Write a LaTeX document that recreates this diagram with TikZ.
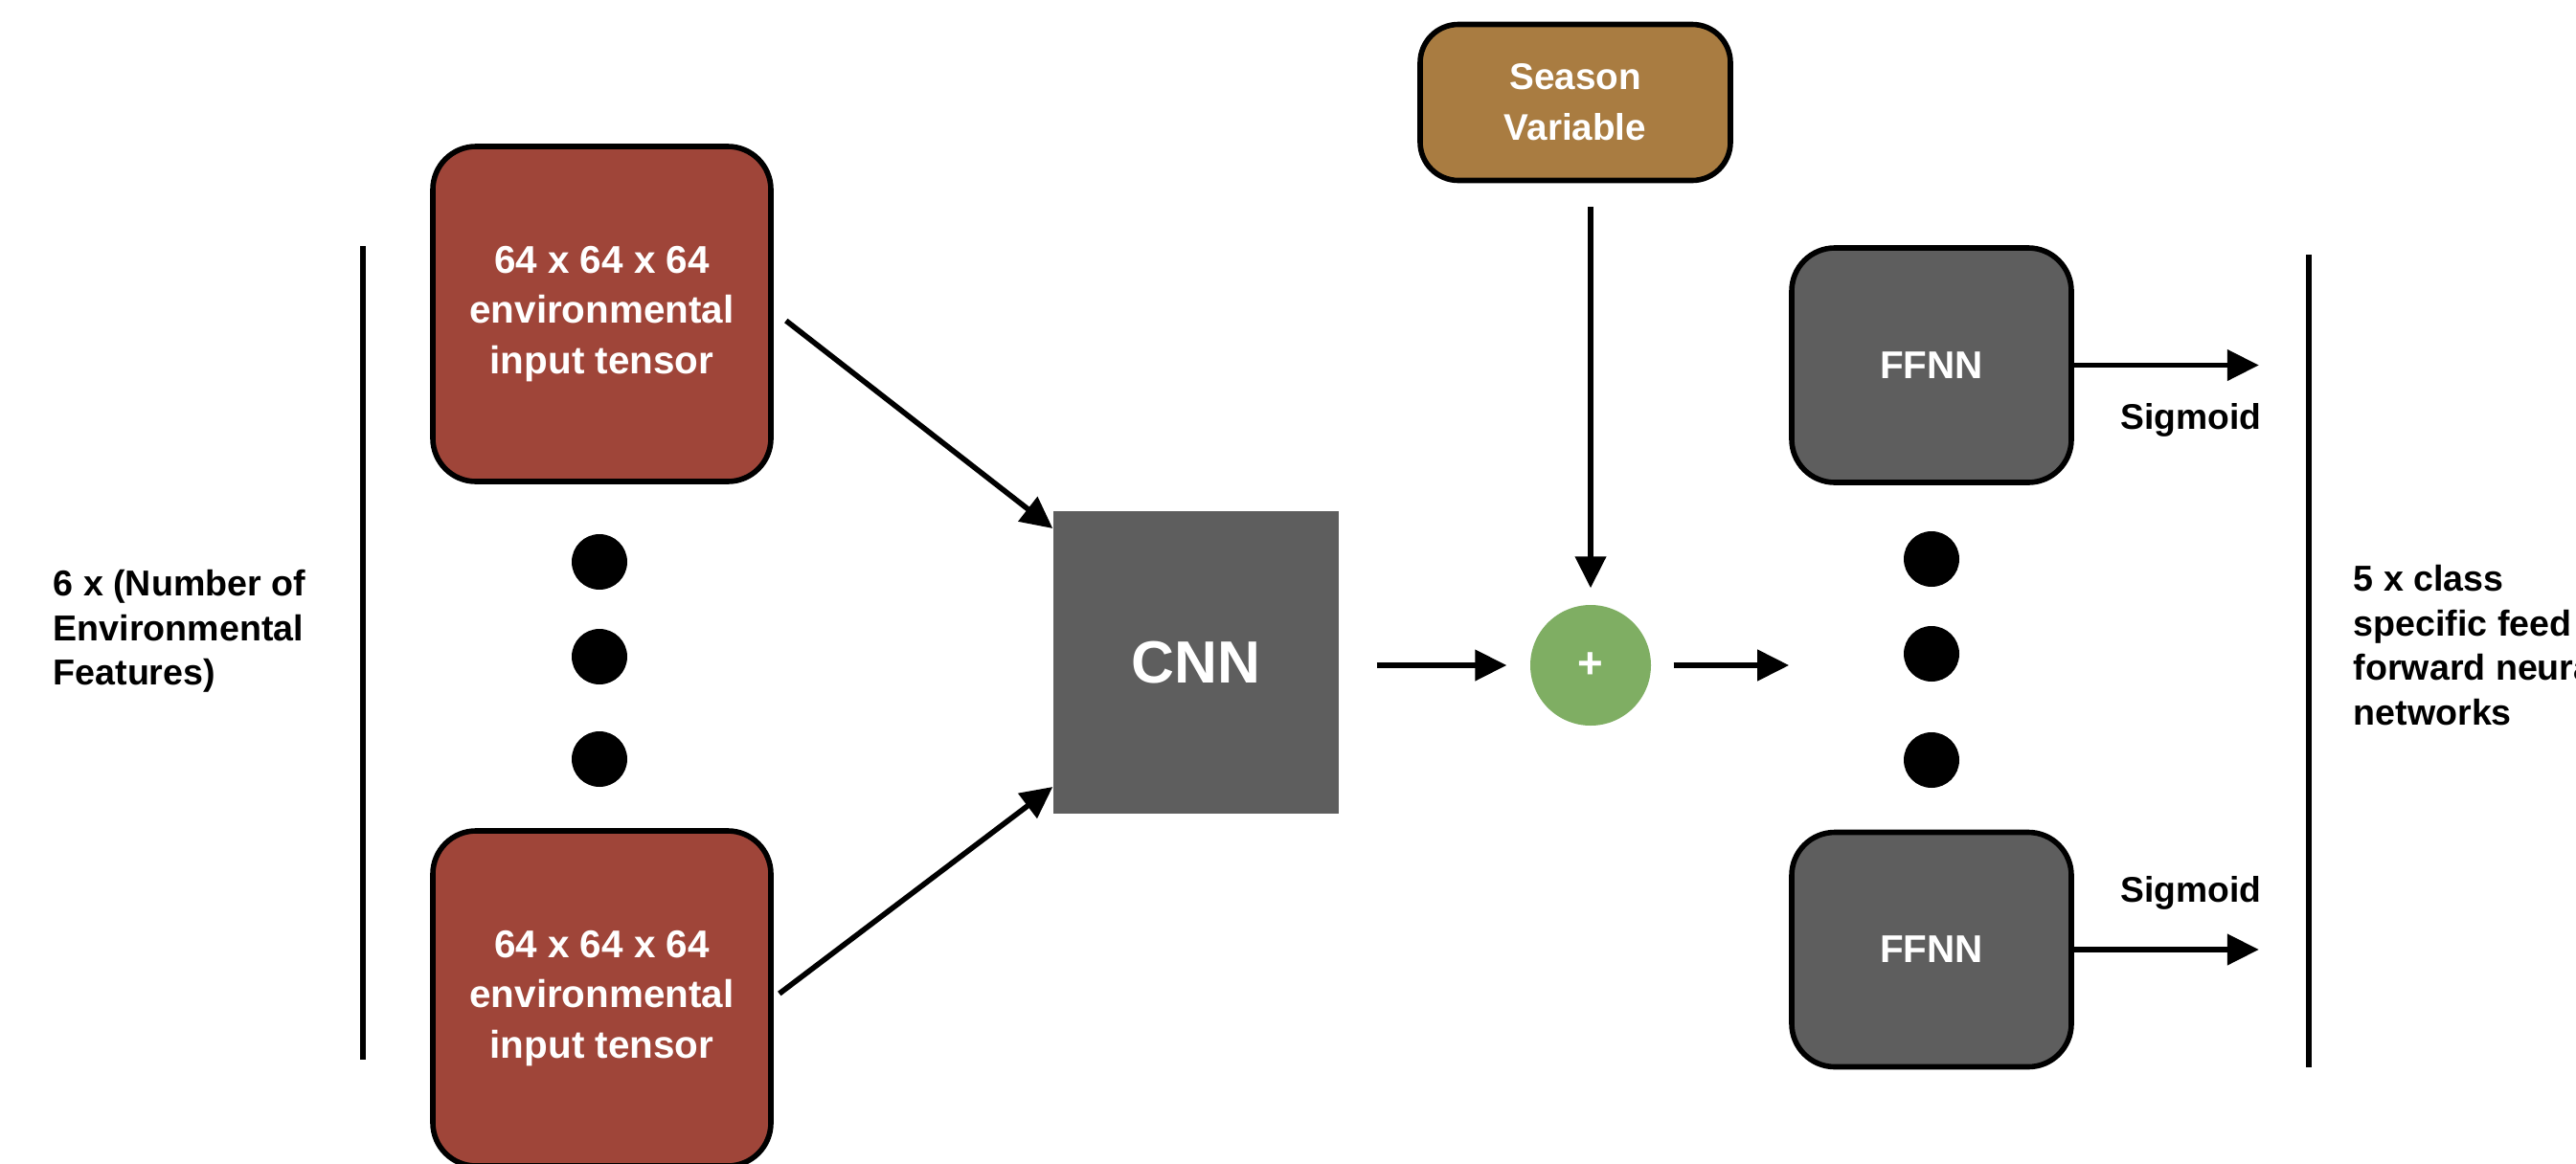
\documentclass[tikz,border=0pt]{standalone}
\usepackage{fontspec}
\setmainfont{Liberation Sans}
\usetikzlibrary{arrows.meta}

\definecolor{tensorred}{RGB}{159,69,57}
\definecolor{seasonbrown}{RGB}{169,124,65}
\definecolor{netgray}{RGB}{94,94,94}
\definecolor{addgreen}{RGB}{127,174,99}

\newcommand{\tensorfont}{\fontsize{11.5}{15}\selectfont\bfseries}
\newcommand{\sidefont}{\fontsize{10.7}{13.2}\selectfont\bfseries}

\tikzset{
  arr/.style={line width=1.6pt, -{Triangle[length=9.4pt,width=9pt]}},
  bar/.style={line width=1.8pt},
  tensorbox/.style={draw, line width=1.6pt, rounded corners=0.45cm, fill=tensorred,
    minimum width=3.53cm, minimum height=3.5cm, align=center, text=white, font=\tensorfont},
  seasonbox/.style={draw, line width=1.6pt, rounded corners=0.4cm, fill=seasonbrown,
    minimum width=3.24cm, minimum height=1.63cm, align=center, text=white,
    font=\fontsize{11}{15}\selectfont\bfseries},
  ffnnbox/.style={draw, line width=1.6pt, rounded corners=0.45cm, fill=netgray,
    minimum width=2.92cm, minimum height=2.45cm, text=white, font=\tensorfont},
  cnnbox/.style={fill=netgray, minimum width=2.98cm, minimum height=3.16cm,
    text=white, font=\fontsize{17.7}{20}\selectfont\bfseries},
  addnode/.style={circle, fill=addgreen, minimum size=1.26cm, inner sep=0pt,
    text=white, font=\fontsize{13}{13}\selectfont\bfseries},
  dotnode/.style={circle, fill=black, minimum size=0.58cm, inner sep=0pt},
  sidelabel/.style={anchor=north west, inner sep=0pt, align=left, font=\sidefont},
  siglabel/.style={anchor=base, inner sep=0pt, font=\fontsize{10.6}{12}\selectfont\bfseries}
}

\begin{document}
\begin{tikzpicture} % environmental CNN + season -> class FFNNs

\def\xL{6.285} % input column
\def\xR{20.17} % ffnn column
\useasboundingbox (0,0) rectangle (26.9,-12.15);

% inputs
\node[tensorbox] (in1) at (\xL,-3.28) {64 x 64 x 64\\environmental\\input tensor};
\node[tensorbox] (in2) at (\xL,-10.43) {64 x 64 x 64\\environmental\\input tensor};
\foreach \y [count=\i] in {5.87,6.86,7.93} \node[dotnode] (ldot\i) at (6.26,-\y) {};
\draw[bar] (3.79,-2.57) -- (3.79,-11.07);
\node[sidelabel] (nfeat) at (0.55,-5.95) {6 x (Number of\\Environmental\\Features)};

% middle
\node[cnnbox] (cnn) at (12.49,-6.92) {CNN};
\node[addnode] (plus) at (16.61,-6.95) {+};
\node[seasonbox] (season) at (16.45,-1.07) {Season\\Variable};

% outputs
\node[ffnnbox] (ffnn1) at (\xR,-3.815) {FFNN};
\node[ffnnbox] (ffnn2) at (\xR,-9.92) {FFNN};
\foreach \y [count=\i] in {5.84,6.83,7.94} \node[dotnode] (rdot\i) at (\xR,-\y) {};
\draw[bar] (24.11,-2.66) -- (24.11,-11.15);
\node[sidelabel] (nclass) at (24.57,-5.90) {5 x class\\specific feed\\forward neural\\networks};
\node[siglabel] (sig1) at (22.88,-4.48) {Sigmoid};
\node[siglabel] (sig2) at (22.88,-9.42) {Sigmoid};

\coordinate (fan) at (ffnn1.west |- plus);
\coordinate (out1) at ([xshift=1.93cm]ffnn1.east);
\coordinate (out2) at ([xshift=1.93cm]ffnn2.east);

% connectors
\draw[arr] ([xshift=0.13cm,yshift=-0.07cm]in1.east) -- ([yshift=1.4cm]cnn.west);
\draw[arr] ([xshift=0.06cm,yshift=0.05cm]in2.east) -- ([yshift=-1.3cm]cnn.west);
\draw[arr, shorten <=0.39cm, shorten >=0.24cm] (cnn.east |- plus) -- (plus.west);
\draw[arr, shorten <=0.23cm] (plus.east) -- (fan);
\draw[arr, shorten <=0.245cm, shorten >=0.17cm] (season.south -| plus) -- (plus.north);
\draw[arr] (ffnn1.east) -- (out1);
\draw[arr] (ffnn2.east) -- (out2);
\end{tikzpicture}
\end{document}
